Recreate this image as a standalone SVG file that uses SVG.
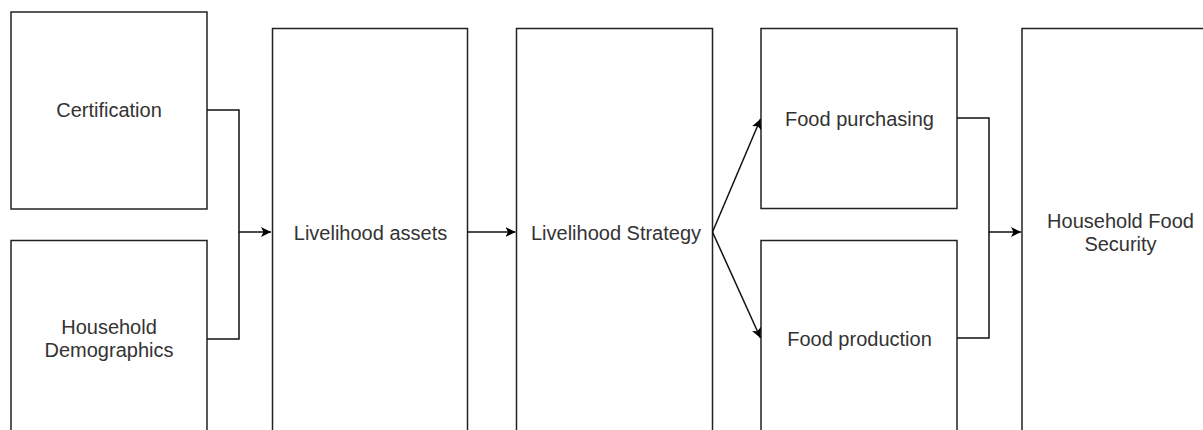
<svg xmlns="http://www.w3.org/2000/svg" width="1203" height="430" viewBox="0 0 1203 430">
<style>
.box{fill:#fff;stroke:#222;stroke-width:1.5}
.lbl{font-family:"Liberation Sans",Arial,sans-serif;font-size:20px;fill:#333;text-anchor:middle}
.con{fill:none;stroke:#111;stroke-width:1.5}
</style>
<defs>
<marker id="ah" viewBox="0 0 10 10" refX="10" refY="5" markerWidth="10" markerHeight="10" markerUnits="userSpaceOnUse" orient="auto">
<path d="M0,0 L10,5 L0,10 L2.5,5 Z" fill="#000"/>
</marker>
</defs>
<rect width="1203" height="430" fill="#fff"/>
<g id="certification"><rect class="box" x="11" y="12" width="196" height="197"/><text class="lbl" x="109" y="117">Certification</text></g>
<g id="household-demographics"><rect class="box" x="11" y="240.5" width="196" height="220"/><text class="lbl" x="109" y="334">Household</text><text class="lbl" x="109" y="357">Demographics</text></g>
<g id="livelihood-assets"><rect class="box" x="272.5" y="28.5" width="195" height="430"/><text class="lbl" x="370.5" y="239.5">Livelihood assets</text></g>
<g id="livelihood-strategy"><rect class="box" x="516.5" y="28.5" width="196" height="430"/><text class="lbl" x="616" y="239.5">Livelihood Strategy</text></g>
<g id="food-purchasing"><rect class="box" x="761" y="28.5" width="196" height="180"/><text class="lbl" x="859.5" y="125.5">Food purchasing</text></g>
<g id="food-production"><rect class="box" x="761" y="240.5" width="196" height="220"/><text class="lbl" x="859.5" y="345.5">Food production</text></g>
<g id="household-food-security"><rect class="box" x="1022" y="28.5" width="197" height="430"/><text class="lbl" x="1120.5" y="228">Household Food</text><text class="lbl" x="1120.5" y="251">Security</text></g>
<g id="connectors">
<path class="con" d="M207,110 H239 V232 H271" marker-end="url(#ah)"/>
<path class="con" d="M207,339 H239 V232"/>
<path class="con" d="M467.5,232 H515.5" marker-end="url(#ah)"/>
<path class="con" d="M712.5,232 L760.5,119" marker-end="url(#ah)"/>
<path class="con" d="M712.5,232 L760.5,338" marker-end="url(#ah)"/>
<path class="con" d="M957,118 H989 V232 H1021" marker-end="url(#ah)"/>
<path class="con" d="M957,338 H989 V232"/>
</g>
</svg>
